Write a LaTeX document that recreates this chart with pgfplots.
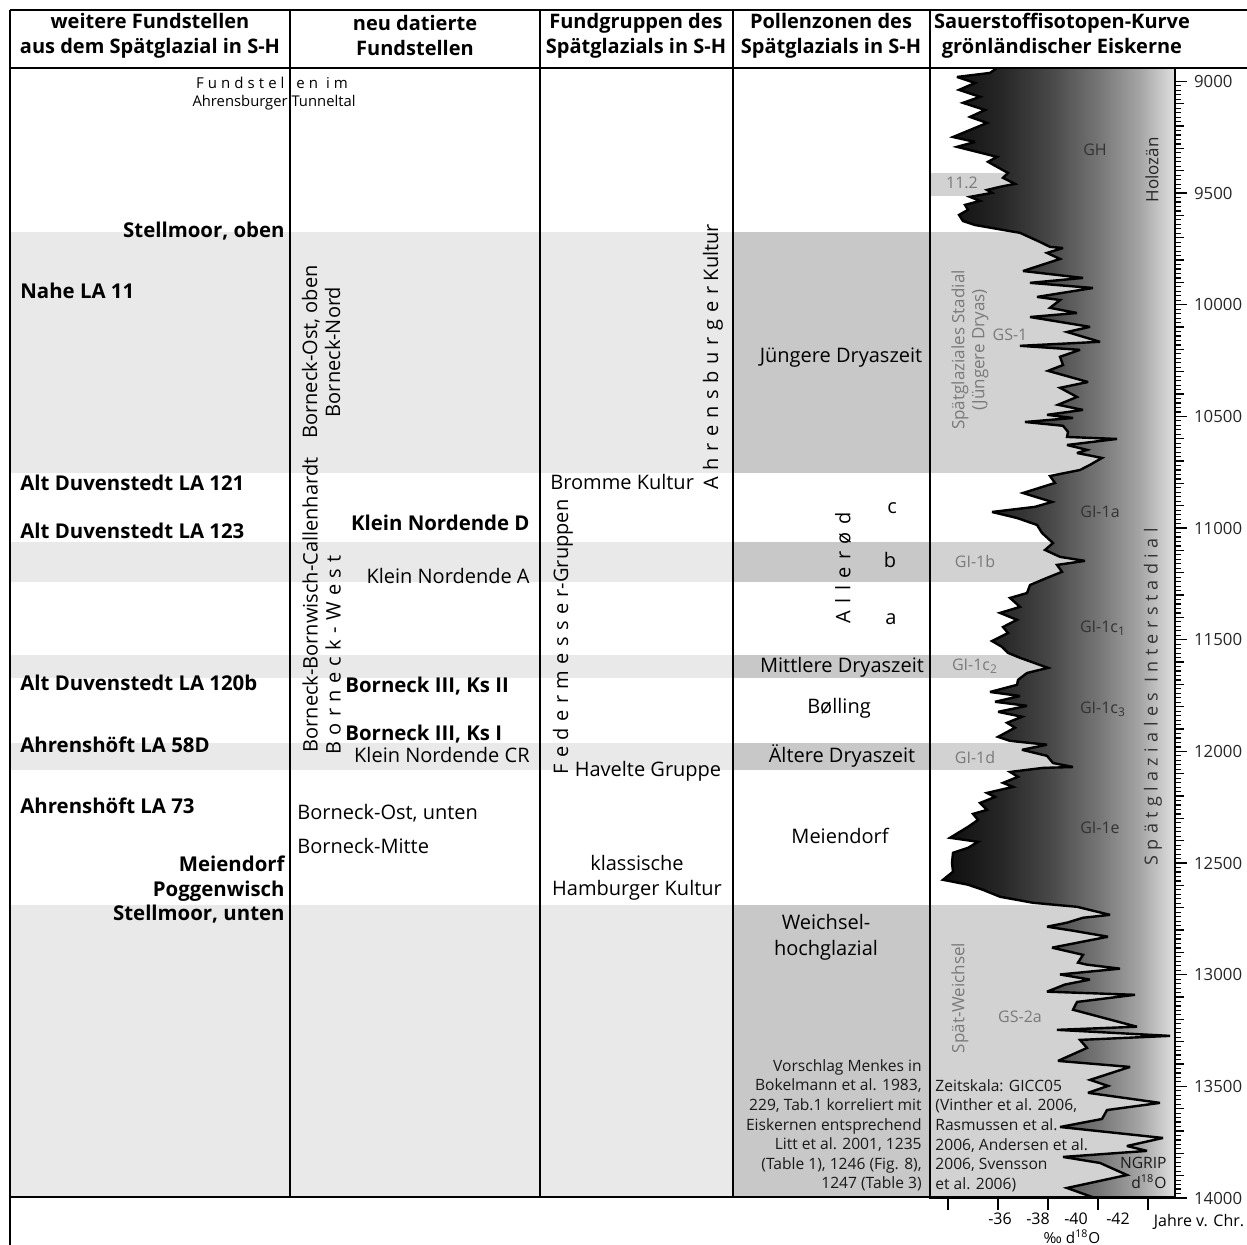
\documentclass[border=0pt]{standalone}
\usepackage{fontspec}
\setmainfont{Open Sans}
\usepackage{pgfplots}
\pgfplotsset{compat=1.18}
\usepackage{pgfplotstable}

\pgfdeclarehorizontalshading{isograd}{100bp}{color(0bp)=(black!95); color(25bp)=(black!95); color(27.5bp)=(black!93); color(37.5bp)=(black!85); color(48bp)=(black!72); color(59bp)=(black!53); color(67.5bp)=(black!35); color(75bp)=(black!12); color(100bp)=(black!12)}

\definecolor{bandL}{HTML}{E9E9E9}
\definecolor{bandD}{HTML}{C8C8C8}
\definecolor{bandP}{HTML}{D2D2D2}
\definecolor{lbl}{HTML}{333333}
\definecolor{glbl}{HTML}{7A7A7A}

\newcommand\hdr{\fontsize{10}{12.5}\selectfont\bfseries}
\newcommand\bl{\fontsize{10.2}{12.3}\selectfont\bfseries}
\newcommand\rg{\fontsize{10}{12.5}\selectfont}
\newcommand\sm{\fontsize{7.8}{9.8}\selectfont}
\newcommand\pl{\fontsize{8}{9.8}\selectfont}

\pgfplotstableread{
d yr
-35.96 8940
-35.68 8962
-34.36 8980
-35.08 9007
-34.44 9038
-35.28 9069
-34.60 9096
-35.48 9128
-34.88 9159
-35.56 9186
-34.20 9249
-35.08 9271
-34.36 9293
-35.96 9338
-35.60 9360
-36.40 9410
-36.20 9432
-36.68 9459
-36.08 9472
-35.56 9486
-35.76 9499
-34.88 9517
-35.28 9535
-34.68 9553
-34.80 9575
-34.44 9598
-34.60 9625
-35.08 9643
-36.20 9665
-36.88 9678
-37.68 9719
-38.08 9741
-38.60 9746
-37.96 9768
-38.48 9795
-37.00 9849
-39.40 9880
-37.28 9902
-39.80 9925
-37.56 9965
-38.48 9979
-38.08 10014
-39.16 10037
-37.28 10055
-39.68 10099
-38.76 10122
-40.08 10166
-36.88 10184
-39.28 10202
-38.48 10233
-38.60 10270
-38.00 10296
-39.60 10346
-38.48 10372
-39.16 10413
-38.40 10448
-39.40 10471
-37.96 10493
-39.00 10507
-37.08 10525
-38.60 10542
-38.80 10569
-38.76 10592
-40.76 10601
-38.76 10628
-39.56 10650
-39.16 10664
-40.16 10686
-39.68 10717
-39.28 10740
-38.08 10767
-38.28 10798
-37.00 10843
-38.16 10883
-37.48 10905
-35.76 10928
-36.76 10955
-37.56 10986
-37.76 11022
-38.20 11067
-37.88 11098
-38.48 11129
-39.48 11147
-38.36 11165
-38.56 11196
-37.96 11223
-37.28 11255
-37.16 11291
-36.48 11313
-36.88 11353
-36.08 11380
-36.76 11411
-36.20 11443
-36.40 11470
-35.76 11506
-36.16 11532
-36.40 11559
-36.88 11581
-38.00 11626
-37.16 11649
-36.80 11680
-36.76 11702
-35.68 11734
-36.88 11752
-35.88 11778
-37.16 11796
-36.00 11823
-36.96 11845
-36.36 11872
-36.68 11894
-36.00 11935
-36.48 11953
-37.96 11970
-36.96 11993
-37.96 12020
-38.20 12052
-39.00 12070
-37.80 12074
-36.48 12092
-36.80 12114
-36.20 12141
-36.60 12159
-35.56 12186
-35.88 12204
-35.28 12231
-35.56 12262
-35.00 12280
-35.20 12307
-34.80 12338
-34.08 12387
-35.20 12405
-34.80 12432
-34.20 12454
-34.16 12499
-34.20 12539
-33.80 12575
-34.80 12597
-35.40 12620
-36.08 12651
-37.40 12678
-39.16 12696
-40.48 12732
-39.40 12745
-38.76 12767
-37.96 12785
-39.00 12803
-40.40 12830
-38.16 12879
-39.40 12911
-39.20 12946
-39.56 12955
-40.88 12973
-38.48 12999
-39.68 13022
-38.68 13044
-37.96 13076
-41.48 13090
-39.16 13122
-39.00 13157
-41.56 13233
-38.36 13247
-42.88 13274
-39.28 13292
-39.56 13328
-38.40 13386
-41.28 13413
-39.68 13471
-40.40 13498
-39.60 13529
-42.48 13574
-40.36 13606
-40.16 13646
-38.48 13682
-42.60 13731
-41.16 13767
-41.96 13789
-38.60 13816
-40.08 13843
-41.16 13897
-38.76 13955
-39.88 14000
}\curvetab

\begin{document}
\begin{tikzpicture}
\useasboundingbox (0,0) rectangle (623.5pt,-622.5pt);
% ---- bands (background) ----
\begin{scope}[x=0.5pt,y=-0.5pt]
\foreach \a/\b in {232/473,542/582,655/678,743/770,905/1197}{
  \fill[bandL] (10,\a) rectangle (733,\b);
  \fill[bandD] (733,\a) rectangle (930,\b);
  \fill[bandP] (930,\a) rectangle (1175,\b);
}
\fill[bandP] (930,173) rectangle (1060,196);
\end{scope}
% ---- isotope curve ----
\begin{axis}[
  at={(465pt,-599pt)}, anchor=south west,
  scale only axis, width=122.5pt, height=565pt,
  xmin=-43.08, xmax=-33.28, x dir=reverse,
  ymin=8940, ymax=14000, y dir=reverse,
  axis on top,
  axis line style={line width=1.2pt},
  tick align=outside,
  every tick/.style={black, line width=0.6pt},
  major tick length=6pt, minor tick length=3pt,
  xtick={-42,-40,-38,-36,-34}, xticklabels={},
  xtick pos=bottom,
  ytick={9000,9500,...,14000}, minor y tick num=24,
  ytick pos=right, yticklabel pos=right,
  extra y ticks={9100,9200,9300,9400,9600,9700,9800,9900,10100,10200,10300,10400,10600,10700,10800,10900,11100,11200,11300,11400,11600,11700,11800,11900,12100,12200,12300,12400,12600,12700,12800,12900,13100,13200,13300,13400,13600,13700,13800,13900},
  extra y tick labels={},
  extra y tick style={major tick length=4.5pt},
  scaled y ticks=false,
  /pgf/number format/1000 sep={},
  /pgf/number format/assume math mode=true,
  yticklabel style={font=\fontsize{8.4}{10}\selectfont, text=black!85},
]
\addplot[draw=none, shade, shading=isograd] table[x=d,y=yr]{\curvetab} -- (axis cs:-43.08,14000) -- (axis cs:-43.08,8940) -- cycle;
\addplot[black, line width=1.2pt, line join=miter, miter limit=4] table[x=d,y=yr]{\curvetab};
\end{axis}
% ---- table lines and texts ----
\begin{scope}[x=0.5pt,y=-0.5pt]
\draw[line width=1.2pt] (10,10) -- (1247,10);
\draw[line width=1.2pt] (10,68) -- (1247,68);
\draw[line width=1.2pt] (10,10) -- (10,1245);
\foreach \c in {290,540,733,930}{\draw[line width=1.2pt] (\c,10) -- (\c,1197);}
\draw[line width=1.2pt] (10,1197) -- (1175,1197);
% headers
\node[align=center, font=\hdr] at (150,36) {weitere Fundstellen\\aus dem Spätglazial in S-H};
\node[align=center, font=\hdr] at (415,36) {neu datierte\\Fundstellen};
\node[align=center, font=\hdr] at (636,36) {Fundgruppen des\\Spätglazials in S-H};
\node[align=center, font=\hdr] at (831,36) {Pollenzonen des\\Spätglazials in S-H};
\node[align=center, font=\hdr] at (1062,36) {Sauerstoffisotopen-Kurve\\grönländischer Eiskerne};
\begin{scope}[every node/.append style={inner sep=0pt}]
% column 1
\node[anchor=mid, font=\fontsize{7.5}{9}\selectfont] at (272,83) {\addfontfeature{LetterSpace=27}Fundstellen im};
\node[anchor=mid, font=\fontsize{7.4}{9}\selectfont] at (274,101) {Ahrensburger Tunneltal};
\node[anchor=mid east, font=\bl] at (285,232) {Stellmoor, oben};
\node[anchor=mid west, font=\bl] at (20,293) {Nahe LA 11};
\node[anchor=mid west, font=\bl] at (20,485) {Alt Duvenstedt LA 121};
\node[anchor=mid west, font=\bl] at (20,533) {Alt Duvenstedt LA 123};
\node[anchor=mid west, font=\bl] at (20,685) {Alt Duvenstedt LA 120b};
\node[anchor=mid west, font=\bl] at (20,747) {Ahrenshöft LA 58D};
\node[anchor=mid west, font=\bl] at (20,808) {Ahrenshöft LA 73};
\node[anchor=mid east, font=\bl] at (285,866) {Meiendorf};
\node[anchor=mid east, font=\bl] at (285,891) {Poggenwisch};
\node[anchor=mid east, font=\bl] at (285,915) {Stellmoor, unten};
% column 2
\node[rotate=90, align=center, font=\fontsize{10}{11.5}\selectfont] at (321,352) {Borneck-Ost, oben\\Borneck-Nord};
\node[rotate=90, font=\rg] at (310,605) {Borneck-Bornwisch-Callenhardt};
\node[rotate=90, font=\rg] at (333,655) {\addfontfeature{LetterSpace=32}Borneck-West};
\node[anchor=mid east, font=\bl] at (530,525) {Klein Nordende D};
\node[anchor=mid east, font=\rg] at (530,578) {Klein Nordende A};
\node[anchor=mid west, font=\bl] at (345,687) {Borneck III, Ks II};
\node[anchor=mid west, font=\bl] at (345,735) {Borneck III, Ks I};
\node[anchor=mid east, font=\rg] at (530,757) {Klein Nordende CR};
\node[anchor=mid west, font=\rg] at (297,814) {Borneck-Ost, unten};
\node[anchor=mid west, font=\rg] at (297,848) {Borneck-Mitte};
% column 3
\node[rotate=90, font=\rg] at (713,357) {{\addfontfeature{LetterSpace=34}Ahrensburger}\ Kultur};
\node[anchor=mid west, font=\rg] at (550,484) {Bromme Kultur};
\node[rotate=90, font=\rg] at (563,637) {{\addfontfeature{LetterSpace=32}Federmesser}-Gruppen};
\node[anchor=mid, font=\rg] at (648,771) {Havelte Gruppe};
\node[align=center, font=\rg] at (637,878) {klassische\\Hamburger Kultur};
% column 4
\node[anchor=mid, font=\rg] at (841,357) {Jüngere Dryaszeit};
\node[anchor=mid, font=\rg] at (892,508) {c};
\node[anchor=mid, font=\rg] at (890,562) {b};
\node[anchor=mid, font=\rg] at (891,619) {a};
\node[rotate=90, font=\rg] at (843,568) {\addfontfeature{LetterSpace=38}Allerød};
\node[anchor=mid, font=\rg] at (842,667) {Mittlere Dryaszeit};
\node[anchor=mid, font=\rg] at (839,708) {Bølling};
\node[anchor=mid, font=\rg] at (842,757) {Ältere Dryaszeit};
\node[anchor=mid, font=\rg] at (840,838) {Meiendorf};
\node[align=center, font=\fontsize{10}{13}\selectfont] at (826,937) {Weichsel-\\hochglazial};
\node[anchor=north east, align=right, font=\sm, text=black!90] at (922,1059) {Vorschlag Menkes in\\Bokelmann et al. 1983,\\229, Tab.1 korreliert mit\\Eiskernen entsprechend\\Litt et al. 2001, 1235\\(Table 1), 1246 (Fig. 8),\\1247 (Table 3)};
% column 5 labels
\node[anchor=mid, font=\pl, text=lbl] at (1095,150) {GH};
\node[rotate=90, font=\fontsize{8.5}{10}\selectfont, text=black!85] at (1152,170) {Holozän};
\node[anchor=mid, font=\pl, text=glbl] at (962,183) {11.2};
\node[rotate=90, align=center, font=\fontsize{8.5}{10}\selectfont, text=glbl] at (970,350) {Spätglaziales Stadial\\(Jüngere Dryas)};
\node[anchor=mid, font=\pl, text=glbl] at (1010,335) {GS-1};
\node[anchor=mid, font=\pl, text=lbl] at (1100,512) {GI-1a};
\node[anchor=mid, font=\pl, text=glbl] at (975,562) {GI-1b};
\node[anchor=mid, font=\pl, text=lbl] at (1103,627) {GI-1c\textsubscript{1}};
\node[anchor=mid, font=\pl, text=glbl] at (975,665) {GI-1c\textsubscript{2}};
\node[anchor=mid, font=\pl, text=lbl] at (1103,708) {GI-1c\textsubscript{3}};
\node[anchor=mid, font=\pl, text=glbl] at (975,758) {GI-1d};
\node[anchor=mid, font=\pl, text=lbl] at (1100,828) {GI-1e};
\node[rotate=90, font=\fontsize{9}{10}\selectfont, text=lbl] at (1153,697) {\addfontfeature{LetterSpace=30}Spätglaziales Interstadial};
\node[rotate=90, font=\fontsize{8.5}{10}\selectfont, text=glbl] at (960,998) {Spät-Weichsel};
\node[anchor=mid, font=\pl, text=glbl] at (1020,1017) {GS-2a};
\node[anchor=north west, align=left, font=\sm, text=black!90] at (935,1079) {Zeitskala: GICC05\\(Vinther et al. 2006,\\Rasmussen et al.\\2006, Andersen et al.\\2006, Svensson\\et al. 2006)};
\node[anchor=north east, align=right, font=\sm, text=black!90] at (1167,1157) {NGRIP\\d\textsuperscript{18}O};
% x axis labels
\node[anchor=mid, font=\pl] at (1000,1219) {-36};
\node[anchor=mid, font=\pl] at (1038,1219) {-38};
\node[anchor=mid, font=\pl] at (1076,1219) {-40};
\node[anchor=mid, font=\pl] at (1118,1219) {-42};
\node[anchor=mid, font=\fontsize{7.6}{9}\selectfont] at (1072,1238) {‰ d\textsuperscript{18}O};
\node[anchor=mid, font=\pl] at (1199,1221) {Jahre v. Chr.};
\end{scope}
\end{scope}
\end{tikzpicture}
\end{document}
